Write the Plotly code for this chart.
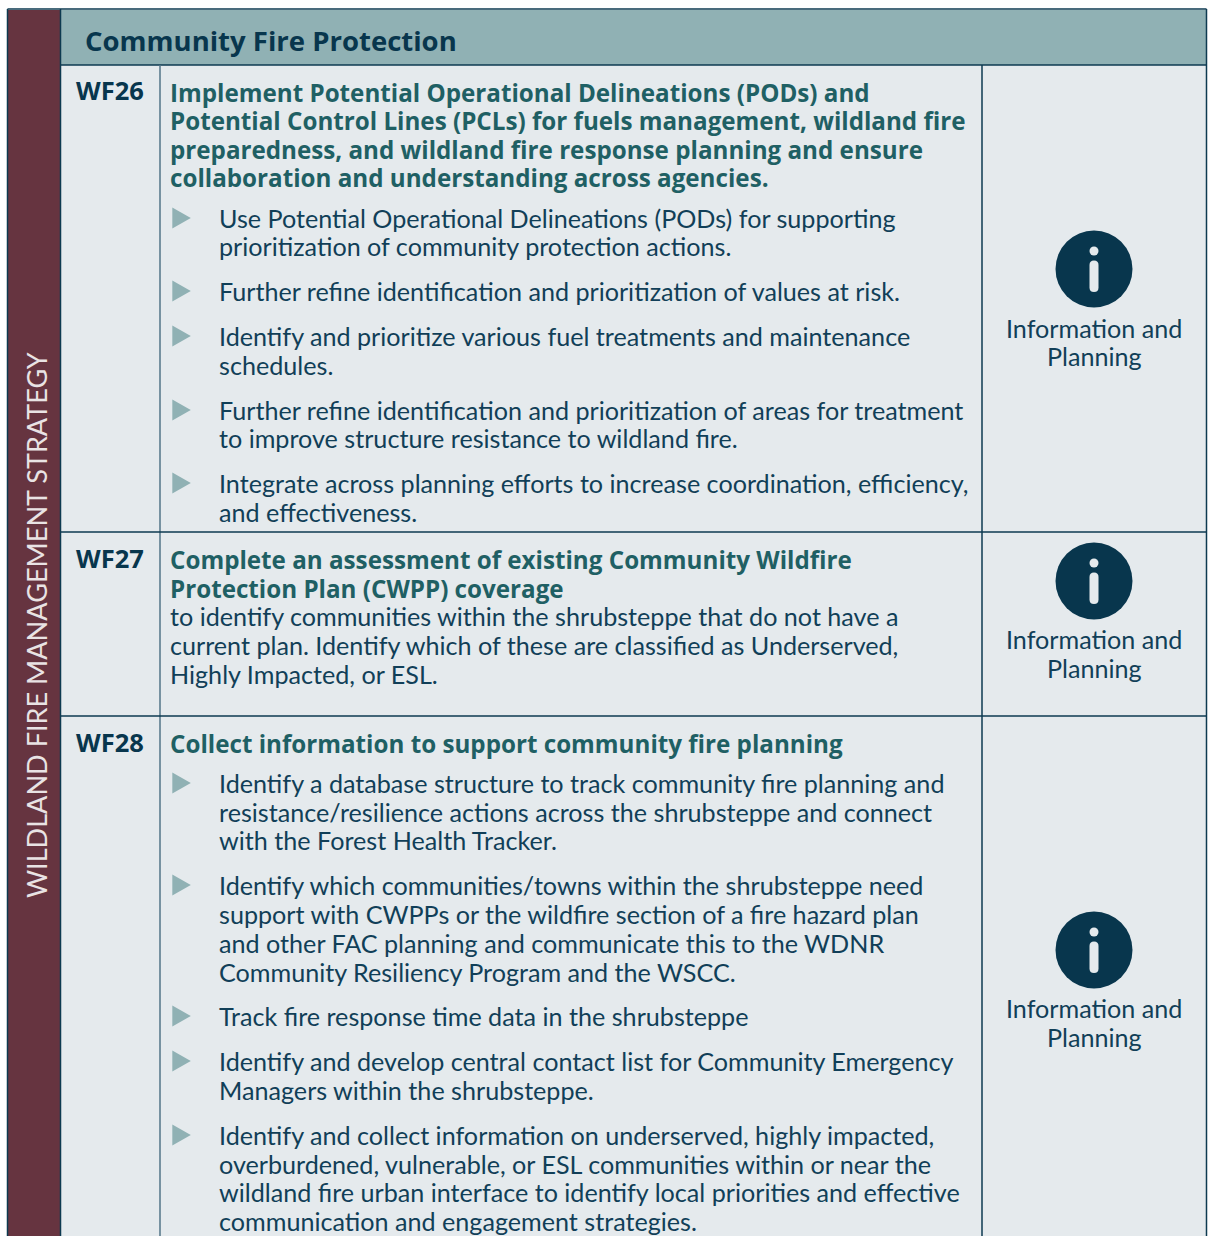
import plotly.graph_objects as go

FONT = "Lato"
BOLD_FONT = "Open Sans"
NAVY = "#08364d"
TEAL = "#1f6064"
BODY = "#113f58"
SOFT = "#90b1b4"
PANEL = "#e5eaed"
MAROON = "#663440"
LINE = "#0d3a50"

SIDE_LABEL = "WILDLAND FIRE MANAGEMENT STRATEGY"
HEADER = "Community Fire Protection"
ROW_IDS = ["WF26", "WF27", "WF28"]
ROW_ID_Y = [91, 559, 743]
ROW_RULES = [532, 716]
ICON_Y = [269, 581, 950]
ICON_TEXT = ["Information and", "Planning"]
ICON_TEXT_Y = [[329, 357], [640, 669], [1009, 1038]]

TITLE_LINES = [
    ("Implement Potential Operational Delineations (PODs) and", 93),
    ("Potential Control Lines (PCLs) for fuels management, wildland fire", 121),
    ("preparedness, and wildland fire response planning and ensure", 150),
    ("collaboration and understanding across agencies.", 178),
    ("Complete an assessment of existing Community Wildfire", 560),
    ("Protection Plan (CWPP) coverage", 589),
    ("Collect information to support community fire planning", 744),
]
PLAIN_LINES = [
    ("to identify communities within the shrubsteppe that do not have a", 617),
    ("current plan. Identify which of these are classified as Underserved,", 646),
    ("Highly Impacted, or ESL.", 675),
]
BULLET_LINES = [
    ("Use Potential Operational Delineations (PODs) for supporting", 219),
    ("prioritization of community protection actions.", 247),
    ("Further refine identification and prioritization of values at risk.", 292),
    ("Identify and prioritize various fuel treatments and maintenance", 337),
    ("schedules.", 366),
    ("Further refine identification and prioritization of areas for treatment", 411),
    ("to improve structure resistance to wildland fire.", 439),
    ("Integrate across planning efforts to increase coordination, efficiency,", 484),
    ("and effectiveness.", 513),
    ("Identify a database structure to track community fire planning and", 784),
    ("resistance/resilience actions across the shrubsteppe and connect", 813),
    ("with the Forest Health Tracker.", 841),
    ("Identify which communities/towns within the shrubsteppe need", 886),
    ("support with CWPPs or the wildfire section of a fire hazard plan", 915),
    ("and other FAC planning and communicate this to the WDNR", 944),
    ("Community Resiliency Program and the WSCC.", 973),
    ("Track fire response time data in the shrubsteppe", 1017),
    ("Identify and develop central contact list for Community Emergency", 1062),
    ("Managers within the shrubsteppe.", 1091),
    ("Identify and collect information on underserved, highly impacted,", 1136),
    ("overburdened, vulnerable, or ESL communities within or near the", 1165),
    ("wildland fire urban interface to identify local priorities and effective", 1193),
    ("communication and engagement strategies.", 1222),
]
BULLET_Y = [218, 291, 336, 410, 483, 783, 885, 1016, 1061, 1135]

fig = go.Figure()


def rect(x0, y0, x1, y1, fill, line=None, width=0):
    fig.add_shape(type="rect", x0=x0, y0=y0, x1=x1, y1=y1, fillcolor=fill,
                  line=dict(color=line or fill, width=width), layer="below")


def rule(x0, y0, x1, y1, color=LINE, width=1.5):
    fig.add_shape(type="line", x0=x0, y0=y0, x1=x1, y1=y1,
                  line=dict(color=color, width=width), layer="between")


def text(x, y, s, size, color, bold=False, anchor="left", angle=0, family=FONT):
    fig.add_annotation(x=x, y=y, text=f"<b>{s}</b>" if bold else s, showarrow=False,
                       xanchor=anchor, yanchor="middle", textangle=angle,
                       font=dict(family=family, size=size, color=color),
                       borderpad=0, borderwidth=0)


rect(8, 10, 60, 1240, MAROON)
rect(61, 10, 1206, 65, SOFT)
rect(61, 65, 1206, 1240, PANEL)
rule(7.5, 9, 1206.5, 9)
rule(7.5, 9, 7.5, 1240)
rule(60.5, 9, 60.5, 1240)
rule(1206.5, 9, 1206.5, 1240)
rule(61, 65, 1206, 65)
rule(160, 65, 160, 1240, "#527487")
rule(982, 65, 982, 1240)
for y in ROW_RULES:
    rule(61, y, 1206, y)

fig.add_trace(go.Scatter(x=[1094] * len(ICON_Y), y=ICON_Y, mode="markers", hoverinfo="skip",
                         marker=dict(symbol="circle", size=77, color=NAVY, line=dict(width=0))))
fig.add_trace(go.Scatter(x=[1094] * len(ICON_Y), y=[v - 18 for v in ICON_Y], mode="markers",
                         hoverinfo="skip",
                         marker=dict(symbol="circle", size=9, color=PANEL, line=dict(width=0))))
for y in ICON_Y:
    fig.add_shape(type="path", fillcolor=PANEL, line=dict(width=0), layer="above",
                  path=(f"M 1089.5 {y - 4} Q 1089.5 {y - 8.5} 1094 {y - 8.5} "
                        f"Q 1098.5 {y - 8.5} 1098.5 {y - 4} L 1098.5 {y + 18.5} "
                        f"Q 1098.5 {y + 23} 1094 {y + 23} Q 1089.5 {y + 23} 1089.5 {y + 18.5} Z"))
for y in BULLET_Y:
    fig.add_shape(type="path", fillcolor=SOFT, line=dict(width=0), layer="above",
                  path=f"M 172.3 {y - 10.5} L 190.8 {y} L 172.3 {y + 10.5} Z")

text(36, 625, SIDE_LABEL, 27.1, "#e9e3e4", anchor="center", angle=-90)
text(85, 40, HEADER, 27.5, NAVY, bold=True, family=BOLD_FONT)
for label, y in zip(ROW_IDS, ROW_ID_Y):
    text(76, y - 1, label, 25.5, NAVY, bold=True, family=BOLD_FONT)
for s, y in TITLE_LINES:
    text(170, y - 1, s, 24.2, TEAL, bold=True, family=BOLD_FONT)
for s, y in PLAIN_LINES:
    text(170, y - 1, s, 25.15, BODY)
for s, y in BULLET_LINES:
    text(218.5, y - 1, s, 25.15, BODY)
for ys in ICON_TEXT_Y:
    for s, y in zip(ICON_TEXT, ys):
        text(1094, y - 1, s, 25.15, BODY, anchor="center")

fig.update_xaxes(visible=False, range=[0, 1208], fixedrange=True)
fig.update_yaxes(visible=False, range=[1236, 0], fixedrange=True)
fig.update_layout(width=1208, height=1236, margin=dict(l=0, r=0, t=0, b=0), showlegend=False,
                  paper_bgcolor="white", plot_bgcolor="white")
fig.write_html("out.html", config={"displayModeBar": False},
               post_script="document.body.style.margin='0';document.body.style.overflow='hidden';")
